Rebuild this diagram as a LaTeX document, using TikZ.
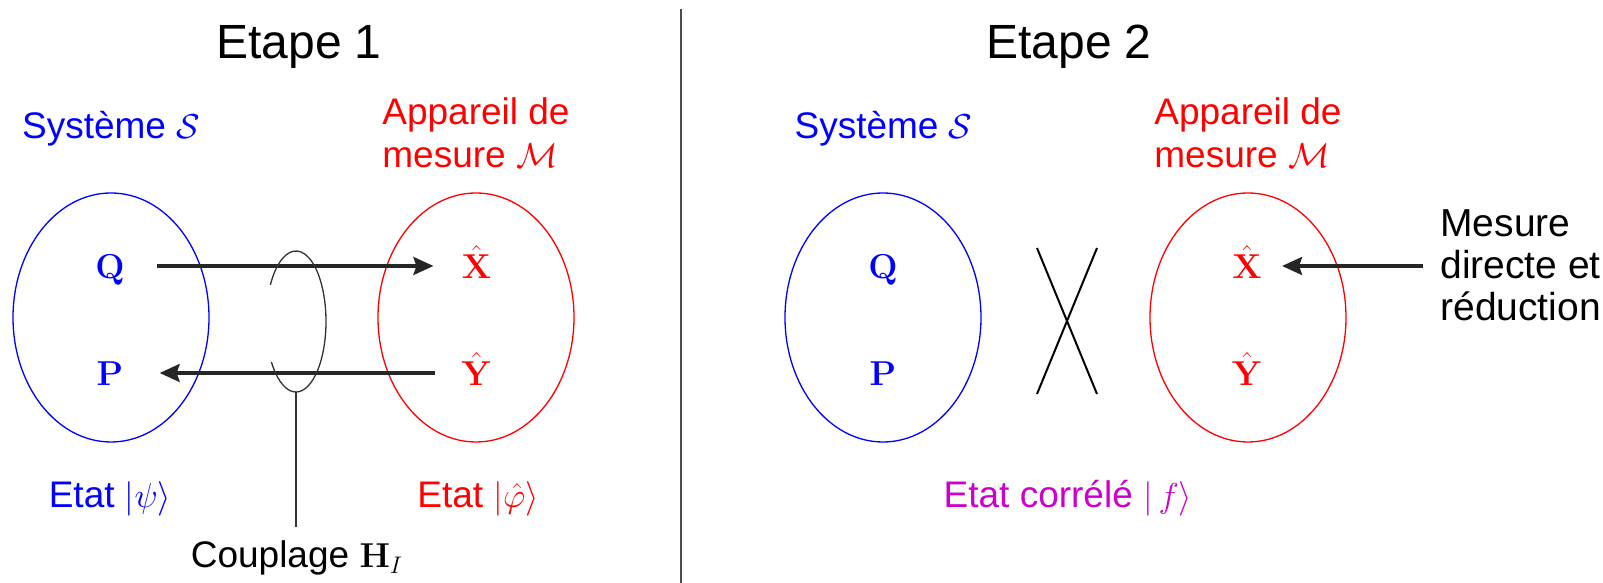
\documentclass[tikz,border=0pt]{standalone}
\usepackage{amsmath, amssymb}
\usepackage[no-math]{fontspec}
\setmainfont{Liberation Sans}
\usetikzlibrary{arrows.meta}

\definecolor{corrmag}{RGB}{204,0,204}

\tikzset{
  titre/.style={font=\fontsize{24}{28}\selectfont, inner sep=0pt, anchor=base},
  txt/.style={font=\fontsize{18.5}{21.5}\selectfont, inner sep=0pt},
  obs/.style={font=\fontsize{18}{20}\selectfont, inner sep=0pt, text height=12.5pt, text depth=0pt},
  syst/.style={blue, line width=0.65pt},
  appar/.style={red, line width=0.65pt},
  fleche/.style={black!85, line width=1.6pt, -{Stealth[length=10pt, width=9pt, inset=1.5pt]}},
}

\begin{document}
\begin{tikzpicture}[x=0.5pt, y=0.5pt]
  \useasboundingbox (0,0) rectangle (1603,583);

  % separation between the two steps
  \draw [black!70, line width=0.75pt] (681,574) -- (681,0);

  % ---- Etape 1 ----
  \node [titre] (etape1) at (299,524) {Etape 1};
  \node [txt, blue, anchor=base] (sys1) at (111,444) {Système $\mathcal{S}$};
  \node [txt, red, align=left, anchor=north west] (app1) at (382,486) {Appareil de\\mesure $\mathcal{M}$};

  \draw [syst] (111,265.5) ellipse [x radius=98, y radius=124.5];
  \draw [appar] (476,265.5) ellipse [x radius=98, y radius=124.5];

  \node [obs, blue] (Q1) at (110,317) {$\mathbf{Q}$};
  \node [obs, blue] (P1) at (110,210) {$\mathbf{P}$};
  \node [obs, red] (X1) at (476.5,317) {$\hat{\mathbf{X}}$};
  \node [obs, red] (Y1) at (476.5,210) {$\hat{\mathbf{Y}}$};

  \draw [fleche, shorten <=16pt, shorten >=14pt] (Q1.east) -- (X1.west);
  \draw [fleche, shorten <=13pt, shorten >=18pt] (Y1.west) -- (P1.east);

  % coupling ring round the two arrows (left side hidden)
  \draw [black!80, line width=0.65pt] (296,261.5) ++(215:30 and 70.5)
        arc [start angle=215, end angle=508.8, x radius=30, y radius=70.5];
  \coordinate (ringbot) at (296,191);

  \node [txt, blue, anchor=base] (etat1) at (110,75) {Etat $\left|\psi\right\rangle$};
  \node [txt, red, anchor=base] (etat2) at (478,75) {Etat $\left|\hat{\varphi}\right\rangle$};
  \node [txt, anchor=base] (coupl) at (297,15) {Couplage $\mathbf{H}_I$};
  \draw [black!80, line width=0.65pt, shorten >=7pt] (ringbot) -- (coupl.north -| ringbot);

  % ---- Etape 2 ----
  \node [titre] (etape2) at (1069,524) {Etape 2};
  \node [txt, blue, anchor=base] (sys2) at (883.5,444) {Système $\mathcal{S}$};
  \node [txt, red, align=left, anchor=north west] (app2) at (1154,486) {Appareil de\\mesure $\mathcal{M}$};

  \draw [syst] (883,265.5) ellipse [x radius=98, y radius=124.5];
  \draw [appar] (1248,265.5) ellipse [x radius=98, y radius=124.5];

  \node [obs, blue] (Q2) at (883,317) {$\mathbf{Q}$};
  \node [obs, blue] (P2) at (883,210) {$\mathbf{P}$};
  \node [obs, red] (X2) at (1247,317) {$\hat{\mathbf{X}}$};
  \node [obs, red] (Y2) at (1247,210) {$\hat{\mathbf{Y}}$};

  % coupling cut
  \draw [line width=1pt] (1037,335) -- (1097,189);
  \draw [line width=1pt] (1097,335) -- (1037,189);

  \node [txt, font=\fontsize{19.5}{21}\selectfont, align=left, anchor=north west] (meas) at (1440,374) {Mesure\\directe et\\réduction};
  \draw [fleche, shorten <=8.5pt, shorten >=10pt] (meas.west |- X2.east) -- (X2.east);

  \node [txt, corrmag, anchor=base] (etat3) at (1068,75) {Etat corrélé $\left|\,f\right\rangle$};
\end{tikzpicture}
\end{document}
